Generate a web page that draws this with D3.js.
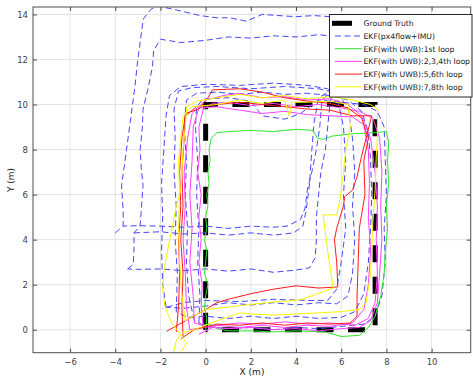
<!DOCTYPE html>
<html>
<head>
<meta charset="utf-8">
<script src="https://cdn.jsdelivr.net/npm/d3@7"></script>
<style>
  body { margin: 0; background: #fff; }
  svg { font-family: "DejaVu Sans", sans-serif; }
</style>
</head>
<body>
<div id="chart"></div>
<script>
// axis ticks
const xTicks = [-6, -4, -2, 0, 2, 4, 6, 8, 10];
const yTicks = [0, 2, 4, 6, 8, 10, 12, 14];

// ground truth rectangle (m)
const groundTruth = [[0, 0], [0, 10], [7.5, 10], [7.5, 0], [0, 0]];

// EKF(px4flow+IMU), drifting loops
const blueLoop1 = [[-0.3,0.3],[-0.25,1.5],[-0.35,3],[-0.3,4.5],[-0.4,6],[-0.35,7.5],[-0.45,9],[-0.4,9.9],[-0.1,10.25],[1,10.3],[2,10.15],[2.5,9.5],[3.5,9.35],[4.2,9.6],[5,10.2],[6,10.1],[7,10.0],[7.6,9.7],[7.9,9],[7.95,7.5],[8.0,6],[7.9,4.5],[7.95,3],[7.8,1.5],[7.5,0.6],[7,0.25],[6,0.15],[5,0.05],[4,0.1],[3,0.0],[2,0.1],[1,0.05],[0,0.15],[-0.5,0.4]];
const blueLoop2 = [[-0.5,0.4],[-0.75,1.5],[-0.85,3],[-0.8,4.5],[-0.9,6],[-0.85,7.5],[-0.95,9],[-0.85,10.2],[-0.4,10.5],[0.5,10.55],[1.5,10.45],[2.5,10.55],[3.5,10.45],[4.5,10.5],[5.5,10.4],[6.3,10.2],[6.9,9.7],[7.2,8.8],[7.3,7.5],[7.35,6],[7.3,4.5],[7.2,3],[7.0,1.6],[6.6,0.8],[6,0.55],[5,0.5],[4,0.6],[3,0.5],[2,0.6],[1,0.5],[0,0.6],[-0.8,0.55],[-1.3,0.8]];
const blueLoop3 = [[-1.3,0.8],[-1.25,2.5],[-1.35,4],[-1.3,5.5],[-1.4,7],[-1.35,8.5],[-1.4,9.8],[-1.2,10.6],[-0.6,10.75],[0.5,10.8],[2,10.7],[3.5,10.8],[5,10.7],[5.8,10.5],[6.3,9.9],[6.5,8.5],[6.6,7],[6.5,5.5],[6.6,4],[6.5,2.5],[6.3,1.5],[5.8,1.15],[5,1.2],[4,1.1],[3,1.2],[2,1.1],[1,1.2],[0,1.05],[-1,0.95],[-1.75,1.0]];
const blueLoop4 = [[-1.75,1.0],[-1.9,2],[-1.95,3.5],[-1.9,5],[-1.95,6.5],[-1.85,8],[-1.75,9.5],[-1.6,10.4],[-1.1,10.8],[0,10.9],[1.5,10.85],[3,10.95],[4.5,10.85],[5.4,10.7],[5.85,10.2],[6.1,9],[6.2,7.5],[6.1,6],[6.2,4.5],[6.0,3],[5.8,1.8],[5.4,1.3],[4.5,1.3],[3,1.35],[1.5,1.25],[0,1.3],[-1,1.2],[-1.9,0.95]];
const blueLoop5 = [[-3.45,2.7],[-3.2,2.9],[-3.17,3.6],[-3.17,4.3],[-2.9,4.6],[-2.85,5.3],[-2.77,6.4],[-2.85,7.2],[-2.9,8.0],[-2.8,9.0],[-2.77,9.8],[-2.55,10.7],[-2.35,11.7],[-2.3,12.4],[-2.0,12.9],[-1.1,12.75],[0,12.85],[1,13.0],[2,12.95],[3,13.05],[4,13.0],[5,13.1],[5.9,13.0],[6.3,12.3],[6.1,11.2],[5.6,10.5],[5.5,10.0],[5.4,9],[5.3,8],[5.1,7],[5.0,6],[4.9,5],[4.9,4],[4.85,3.2],[4.6,2.75],[4,2.65],[3,2.55],[2,2.7],[1,2.6],[0,2.7],[-1,2.62],[-2,2.7],[-3,2.68],[-3.45,2.7]];
const blueLoop6 = [[-4.0,4.3],[-3.65,4.6],[-3.65,5.3],[-3.72,6.4],[-3.5,8.0],[-3.3,9.5],[-3.13,10.8],[-3.0,12],[-2.76,13.8],[-2.4,14.25],[-2.1,14.37],[-1.3,14.2],[-0.25,13.95],[0.5,13.85],[1.07,13.85],[1.8,13.7],[2.5,14.0],[3.2,13.95],[4.0,13.9],[4.8,13.95],[5.5,13.9],[6.2,13.6],[6.5,12.5],[6.2,11.2],[5.5,10.5],[5.15,10.2],[5.05,9],[4.9,8],[4.7,7],[4.5,6.2],[4.4,5.4],[4.2,4.9],[3.6,4.6],[3,4.55],[2,4.6],[1,4.5],[0,4.6],[-1,4.55],[-2,4.6],[-3,4.62],[-3.65,4.6]];
const blueTail = [[-3.17,4.3],[-2,4.35],[-1,4.25],[0,4.3],[1,4.2],[2,4.3],[3,4.2],[3.9,4.3],[4.3,4.6],[4.45,5.3],[4.6,6.5],[4.7,8],[4.8,9.2],[5.0,10.3],[5.5,10.6]];

// EKF(with UWB): 1st loop
const greenLoop = [[0,0],[0.05,0.5],[-0.05,1],[0,1.5],[0.1,2],[-0.05,2.5],[0,3],[0.05,3.5],[-0.05,4],[0.05,4.5],[0,5],[0.1,5.5],[0.05,6],[0.15,6.5],[0.1,7],[0.2,7.5],[0.15,8],[0.25,8.5],[0.5,8.75],[1,8.8],[2,8.85],[3,8.8],[4,8.9],[4.75,8.85],[4.95,8.5],[5.2,8.45],[5.6,8.6],[6.5,8.7],[7.5,8.75],[8.0,8.8],[8.1,8.3],[8.05,7.5],[8.1,6.5],[8.0,5.5],[8.05,4.5],[7.95,3.5],[7.9,2.5],[7.75,1.5],[7.5,0.6],[7.2,0.1],[6.8,-0.25],[6.0,-0.3],[5.3,-0.1],[4,-0.05],[3,-0.1],[2,-0.05],[1,-0.05],[0.5,0.05],[0.2,0.25],[-0.2,0.2]];

// EKF(with UWB): 2,3,4th loop
const magentaLoop2 = [[-0.1,0.1],[-0.2,1],[-0.15,2],[-0.3,3],[-0.2,4],[-0.3,5],[-0.2,6],[-0.35,7],[-0.25,8],[-0.3,9],[-0.1,9.8],[0.3,10.05],[1,10.1],[2,9.95],[3,10.05],[4,9.9],[5,10.0],[6,9.85],[6.8,9.7],[7.4,9.4],[7.7,8.5],[7.8,7],[7.75,5.5],[7.8,4],[7.7,2.5],[7.6,1.2],[7.3,0.4],[6.8,0.1],[6,0.05],[5,-0.05],[4,0.05],[3,0],[2,0.1],[1,0.05],[0.2,0.1]];
const magentaLoop3 = [[0.2,0.1],[-0.5,0.3],[-0.55,1.5],[-0.7,3],[-0.6,4.5],[-0.7,6],[-0.6,7.5],[-0.55,9],[-0.3,9.85],[0.5,9.9],[1.5,9.75],[2.5,9.6],[3.5,9.7],[4.5,9.55],[5.5,9.5],[6.5,9.45],[7.0,9.1],[7.2,8],[7.25,6.5],[7.2,5],[7.3,3.5],[7.2,2],[7.0,0.9],[6.5,0.3],[5.5,0.15],[4.5,0.2],[3.5,0.1],[2.5,0.2],[1.5,0.1],[0.5,0.2],[-0.7,0.0]];
const magentaLoop4 = [[-0.7,0.0],[-0.85,1],[-0.9,2.5],[-1.0,4],[-0.9,5.5],[-0.95,7],[-0.8,8.5],[-0.6,9.6],[0,10.2],[0.8,10.4],[1.5,10.5],[2.5,10.3],[3.5,10.35],[4.5,10.2],[5.5,10.25],[6.3,10.0],[6.9,9.5],[7.3,8.5],[7.5,7],[7.6,5.5],[7.55,4],[7.6,2.5],[7.5,1.2],[7.2,0.5],[6.6,0.2],[5.5,0.3],[4.5,0.25],[3.5,0.35],[2.5,0.25],[1.5,0.3],[0.5,0.2],[-0.3,-0.2]];

// EKF(with UWB): 5,6th loop
const redLoop5 = [[-1.0,-0.3],[-1.05,1],[-1.0,2.5],[-1.1,4],[-1.0,5.5],[-1.05,7],[-0.95,8.5],[-0.9,9.6],[-0.3,9.8],[0.1,10.3],[0.3,10.65],[1.5,10.7],[2.5,10.55],[3.5,10.3],[4.5,10.15],[5.5,10.05],[6.3,9.85],[6.9,9.4],[7.2,8.5],[7.0,7.5],[7.05,6],[6.8,4.5],[6.75,3],[6.7,1.5],[6.7,0.6],[6.4,0.3],[5.5,0.25],[4.5,0.3],[3.5,0.2],[2.5,0.3],[1.5,0.2],[0.5,0.25],[-0.5,0.0],[-1.1,-0.4]];
const redLoop6 = [[-1.3,-0.1],[-1.2,1],[-1.15,2.5],[-1.2,4],[-1.1,5.5],[-1.15,7],[-1.05,8.5],[-0.9,9.5],[-0.4,9.9],[0.5,10.0],[1.5,10.1],[2.5,10.0],[3.5,9.9],[4.5,9.8],[5.5,9.75],[6.5,9.5],[7.35,9.5],[7.1,8.5],[6.9,7.7],[6.7,6.8],[6.5,6.2],[6.15,5.9],[6.1,5.5],[5.8,4.5],[5.7,4],[5.8,3],[5.85,1.9],[5,1.85],[4,1.95],[3,1.8],[2,1.6],[1,1.35],[0.5,1.2],[0,0.9],[-0.8,0.45],[-1.73,-0.07]];

// EKF(with UWB): 7,8th loop
const yellowLoop7 = [[-1.05,-0.95],[-0.85,-0.6],[-1.2,-0.1],[-1.5,0.3],[-1.8,1],[-1.9,1.8],[-1.85,2.6],[-1.73,3.3],[-1.55,4.2],[-1.44,4.75],[-1.3,5.5],[-1.1,6.2],[-1.05,7],[-1.0,8],[-0.9,9],[-0.84,9.9],[-0.4,10.15],[0.5,10.3],[1.5,10.45],[2.5,10.3],[3.5,10.4],[4.5,10.25],[5.5,10.35],[6.5,10.2],[7.3,10.0],[7.6,9.8],[7.6,8.5],[7.55,7.7],[7.5,6.2],[7.4,4.75],[7.35,3.5],[7.3,2.5],[7.1,1.2],[6.8,0.9],[6,0.8],[5,0.75],[4,0.7],[3,0.65],[2,0.7],[1.5,0.75],[0.5,0.4],[-0.5,0.0],[-1.06,-0.15],[-1.3,-0.5],[-1.5,-1.3]];
const yellowLoop8 = [[-0.9,0.4],[-1.05,1.5],[-1.15,3],[-1.2,4.5],[-1.15,6],[-1.2,7.5],[-1.1,8.5],[-1.0,9.5],[-0.6,9.9],[0.5,10.0],[1.5,10.2],[2.5,10.05],[3.5,10.2],[3.7,9.5],[3.8,10.1],[4.5,10.1],[5.5,10.15],[6.3,10.0],[6.4,9],[6.2,8],[6.1,7],[5.95,5.8],[5.8,5.1],[5.2,5.1],[5.4,3.5],[5.65,1.85],[4.2,1.33],[2.7,1.2],[1.2,1.03],[0,0.9],[-0.9,0.4]];

const legendLabels = ["Ground Truth", "EKF(px4flow+IMU)", "EKF(with UWB):1st loop",
  "EKF(with UWB):2,3,4th loop", "EKF(with UWB):5,6th loop", "EKF(with UWB):7,8th loop"];

const width = 473, height = 378;
const plot = { left: 33, top: 7, right: 470.7, bottom: 352.7 };

const x = d3.scaleLinear().domain([-7.64, 11.73]).range([plot.left, plot.right]);
const y = d3.scaleLinear().domain([-1.02, 14.33]).range([plot.bottom, plot.top]);

const svg = d3.select("#chart").append("svg")
    .attr("width", width)
    .attr("height", height);

svg.append("clipPath").attr("id", "clip")
  .append("rect")
    .attr("x", plot.left).attr("y", plot.top)
    .attr("width", plot.right - plot.left)
    .attr("height", plot.bottom - plot.top);

// grid
const grid = svg.append("g").attr("stroke", "#e3e3e3").attr("stroke-width", 1);
grid.selectAll(".gx").data(xTicks).join("line")
    .attr("x1", d => x(d)).attr("x2", d => x(d))
    .attr("y1", plot.top).attr("y2", plot.bottom);
grid.selectAll(".gy").data(yTicks).join("line")
    .attr("y1", d => y(d)).attr("y2", d => y(d))
    .attr("x1", plot.left).attr("x2", plot.right);

// trajectories
const line = d3.line().x(d => x(d[0])).y(d => y(d[1]));
const lines = svg.append("g").attr("clip-path", "url(#clip)").attr("fill", "none");

lines.append("path")
    .attr("d", line(groundTruth))
    .attr("stroke", "#000")
    .attr("stroke-width", 5)
    .attr("stroke-dasharray", "17,14.5");

const blueSeries = [blueLoop1, blueLoop2, blueLoop3, blueLoop4, blueLoop5, blueLoop6, blueTail];
lines.selectAll(".blue").data(blueSeries).join("path")
    .attr("class", "blue")
    .attr("d", line)
    .attr("stroke", "#4646ff")
    .attr("stroke-width", 1)
    .attr("stroke-dasharray", "6,3.5");

const colored = [
  { data: greenLoop, color: "#2ee62e" },
  { data: magentaLoop2, color: "#ff40ff" },
  { data: magentaLoop3, color: "#ff40ff" },
  { data: magentaLoop4, color: "#ff40ff" },
  { data: redLoop5, color: "#ff1a1a" },
  { data: redLoop6, color: "#ff1a1a" },
  { data: yellowLoop7, color: "#f5f500" },
  { data: yellowLoop8, color: "#f5f500" }
];
lines.selectAll(".traj").data(colored).join("path")
    .attr("class", "traj")
    .attr("d", d => line(d.data))
    .attr("stroke", d => d.color)
    .attr("stroke-width", 1);

// axes
const axisColor = "#4d4d4d";
const xAxis = svg.append("g")
    .attr("transform", `translate(0,${plot.bottom})`)
    .call(d3.axisBottom(x).tickValues(xTicks).tickSize(-4).tickPadding(6));
const yAxis = svg.append("g")
    .attr("transform", `translate(${plot.left},0)`)
    .call(d3.axisLeft(y).tickValues(yTicks).tickSize(-4).tickPadding(5));
const xTop = svg.append("g")
    .attr("transform", `translate(0,${plot.top})`)
    .call(d3.axisTop(x).tickValues(xTicks).tickSize(-4).tickFormat(""));
const yRight = svg.append("g")
    .attr("transform", `translate(${plot.right},0)`)
    .call(d3.axisRight(y).tickValues(yTicks).tickSize(-4).tickFormat(""));

[xAxis, yAxis, xTop, yRight].forEach(a => {
  a.select(".domain").remove();
  a.selectAll("line").attr("stroke", axisColor);
  a.selectAll("text")
    .attr("fill", "#404040")
    .attr("font-size", "8.5px")
    .attr("font-family", "DejaVu Sans, sans-serif");
});

svg.append("rect")
    .attr("x", plot.left).attr("y", plot.top)
    .attr("width", plot.right - plot.left)
    .attr("height", plot.bottom - plot.top)
    .attr("fill", "none")
    .attr("stroke", axisColor)
    .attr("stroke-width", 1);

// axis labels
svg.append("text")
    .attr("x", 252).attr("y", 375)
    .attr("text-anchor", "middle")
    .attr("font-size", "9px")
    .attr("fill", "#262626")
    .text("X (m)");
svg.append("text")
    .attr("transform", "translate(14,180) rotate(-90)")
    .attr("text-anchor", "middle")
    .attr("font-size", "9px")
    .attr("fill", "#262626")
    .text("Y (m)");

// legend
const legend = svg.append("g");
legend.append("rect")
    .attr("x", 329.5).attr("y", 14.5)
    .attr("width", 142.5).attr("height", 82.5)
    .attr("fill", "#fff")
    .attr("stroke", "#262626")
    .attr("stroke-width", 1);

const legendItems = [
  { label: legendLabels[0], color: "#000", width: 5, dash: null, x1: 332, x2: 352 },
  { label: legendLabels[1], color: "#4646ff", width: 1, dash: "6,3.5", x1: 335, x2: 362 },
  { label: legendLabels[2], color: "#2ee62e", width: 1, dash: null, x1: 335, x2: 362 },
  { label: legendLabels[3], color: "#ff40ff", width: 1, dash: null, x1: 335, x2: 362 },
  { label: legendLabels[4], color: "#ff1a1a", width: 1, dash: null, x1: 335, x2: 362 },
  { label: legendLabels[5], color: "#f5f500", width: 1, dash: null, x1: 335, x2: 362 }
];
const rowY = d3.scaleLinear().domain([0, 5]).range([23.3, 86.8]);
const rows = legend.selectAll(".row").data(legendItems).join("g")
    .attr("transform", (d, i) => `translate(0,${rowY(i)})`);
rows.append("line")
    .attr("x1", d => d.x1).attr("x2", d => d.x2)
    .attr("stroke", d => d.color)
    .attr("stroke-width", d => d.width)
    .attr("stroke-dasharray", d => d.dash);
rows.append("text")
    .attr("x", 363.5).attr("y", 3)
    .attr("font-size", "7.7px")
    .attr("fill", "#1a1a1a")
    .text(d => d.label);
</script>
</body>
</html>
